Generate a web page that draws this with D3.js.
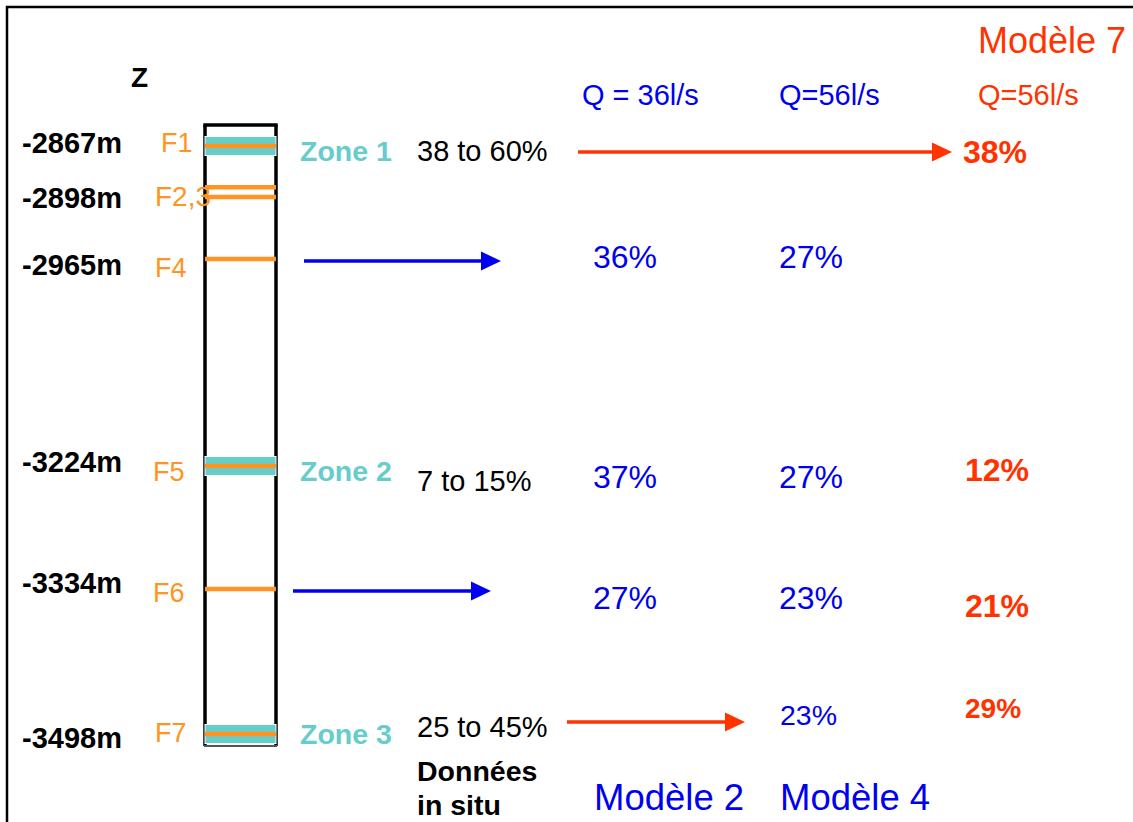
<!DOCTYPE html>
<html><head><meta charset="utf-8">
<script src="https://cdn.jsdelivr.net/npm/d3@7"></script>
<style>body{margin:0;background:#fff}svg{display:block}text{font-family:"Liberation Sans",Arial,sans-serif}</style>
</head><body>
<script>
// ---------------- DATA ----------------
const depthLabels = ["-2867m","-2898m","-2965m","-3224m","-3334m","-3498m"];
const depthValues = [-2867,-2898,-2965,-3224,-3334,-3498];
const fractures = ["F1","F2","F3","F4","F5","F6","F7"];
const fractureDepths = [-2867,-2892,-2898,-2965,-3224,-3334,-3498];
const fractureLabels = ["F1","F2,3","F4","F5","F6","F7"];
const fractureLabelDepths = [-2867,-2898,-2965,-3224,-3334,-3498];
const zones = ["Zone 1","Zone 2","Zone 3"];
const zoneDepths = [-2867,-3224,-3498];
const inSitu = ["38 to 60%","7 to 15%","25 to 45%"];
const models = ["Modèle 2","Modèle 4","Modèle 7"];
const flows = ["Q = 36l/s","Q=56l/s","Q=56l/s"];
const model2Depths = [-2965,-3224,-3334];
const model2Values = [36,37,27];
const model4Depths = [-2965,-3224,-3334,-3498];
const model4Values = [27,27,23,23];
const model7Depths = [-2867,-3224,-3334,-3498];
const model7Values = [38,12,21,29];
const arrowDepths = [-2867,-2965,-3334,-3498];
const arrowKinds = ["m7","m2","m2","m4"];

// ---------------- LAYOUT ----------------
const W = 1133, H = 822;
const BLUE = "#0000f0", RED = "#ff3300", ORANGE = "#ff9422", CYAN = "#66cccc";
const svg = d3.select("body").append("svg").attr("width", W).attr("height", H);

const col = d3.scaleOrdinal()
  .domain(["depth","flabel","well","zone","insitu","m2","m4","m7"])
  .range([22,155,204,300,417,593,779,965]);
const y = d3.scaleLinear().domain(depthValues).range([146,197,259,466,589,734]);
const wellW = 72;

// frame
svg.append("path").attr("d", `M7,${H}V7H${W}`).attr("fill","none").attr("stroke","#000").attr("stroke-width",2.5);

// header texts
svg.append("text").attr("x",131).attr("y",77).attr("dominant-baseline","central")
  .attr("font-weight","bold").attr("font-size",28).text("Z");
const flowX = [582, 779, 978];
svg.selectAll(".flow").data(flows).join("text")
  .attr("x",(d,i)=>flowX[i]).attr("y",95).attr("dominant-baseline","central")
  .attr("font-size",29).attr("fill",(d,i)=>i<2?BLUE:RED).text(d=>d);
svg.append("text").attr("x",978).attr("y",40).attr("dominant-baseline","central")
  .attr("font-size",36).attr("fill",RED).text(models[2]);
svg.selectAll(".mname").data(models.slice(0,2)).join("text")
  .attr("x",(d,i)=>[594,780][i]).attr("y",797).attr("dominant-baseline","central")
  .attr("font-size",36.5).attr("fill",BLUE).text(d=>d);
svg.selectAll(".insituT").data(["Données","in situ"]).join("text")
  .attr("x",col("insitu")).attr("y",(d,i)=>771+i*34).attr("dominant-baseline","central")
  .attr("font-size",28.5).attr("font-weight","bold").text(d=>d);

// well
const wx = col("well");
const wTop = y(-2867)-21, wBot = y(-3498)+12;
const wellG = svg.append("g");
wellG.append("line").attr("x1",wx+1).attr("x2",wx+1).attr("y1",wTop).attr("y2",wBot).attr("stroke","#000").attr("stroke-width",3.5);
wellG.append("line").attr("x1",wx+wellW).attr("x2",wx+wellW).attr("y1",wTop).attr("y2",wBot).attr("stroke","#000").attr("stroke-width",3.5);
wellG.append("line").attr("x1",wx-0.7).attr("x2",wx+wellW+1.7).attr("y1",wTop).attr("y2",wTop).attr("stroke","#000").attr("stroke-width",3.5);
wellG.append("line").attr("x1",wx).attr("x2",wx+wellW+1).attr("y1",wBot).attr("y2",wBot).attr("stroke","#555").attr("stroke-width",2);

// zone bands
svg.selectAll(".band").data(zoneDepths).join("rect")
  .attr("x",wx+1).attr("width",wellW-1).attr("y",d=>y(d)-9.5).attr("height",19)
  .attr("fill",CYAN).attr("stroke","#fff").attr("stroke-width",1);
// fracture lines
svg.selectAll(".frac").data(fractureDepths).join("line")
  .attr("x1",wx+1).attr("x2",wx+wellW).attr("y1",d=>y(d)).attr("y2",d=>y(d))
  .attr("stroke",ORANGE).attr("stroke-width",4.5);

// depth labels
const depthDy = [-3,1,6,-4,-6,4];
svg.selectAll(".dl").data(depthLabels).join("text")
  .attr("x",col("depth")).attr("y",(d,i)=>y(depthValues[i])+depthDy[i]).attr("dominant-baseline","central")
  .attr("font-weight","bold").attr("font-size",29).text(d=>d);
// fracture labels
const fDy = [-3,-1,9,6,4,-1], fDx = [6,0,0,-2,-2,0];
svg.selectAll(".fl").data(fractureLabels).join("text")
  .attr("x",(d,i)=>col("flabel")+fDx[i]).attr("y",(d,i)=>y(fractureLabelDepths[i])+fDy[i]).attr("dominant-baseline","central")
  .attr("font-size",(d,i)=>i===1?28:27).attr("fill",ORANGE).text(d=>d);
// zones
const zDy = [5,5,0], isDy = [5,15,-7];
svg.selectAll(".zl").data(zones).join("text")
  .attr("x",col("zone")).attr("y",(d,i)=>y(zoneDepths[i])+zDy[i]).attr("dominant-baseline","central")
  .attr("font-size",28.5).attr("font-weight","bold").attr("fill",CYAN).text(d=>d);
svg.selectAll(".is").data(inSitu).join("text")
  .attr("x",col("insitu")).attr("y",(d,i)=>y(zoneDepths[i])+isDy[i]).attr("dominant-baseline","central")
  .attr("font-size",29).text(d=>d);

// model values
const m2Dy = [-2,11,9];
svg.selectAll(".m2").data(model2Values).join("text")
  .attr("x",col("m2")).attr("y",(d,i)=>y(model2Depths[i])+m2Dy[i]).attr("dominant-baseline","central")
  .attr("font-size",32).attr("fill",BLUE).text(d=>d+"%");
const m4Dy = [-2,11,9,-19];
svg.selectAll(".m4").data(model4Values).join("text")
  .attr("x",(d,i)=>col("m4")+(i===3?1:0)).attr("y",(d,i)=>y(model4Depths[i])+m4Dy[i]).attr("dominant-baseline","central")
  .attr("font-size",(d,i)=>i===3?28.5:32).attr("fill",BLUE).text(d=>d+"%");
const m7Dy = [6,4,17,-26];
svg.selectAll(".m7").data(model7Values).join("text")
  .attr("x",(d,i)=>col("m7")+(i===0?-2:0)).attr("y",(d,i)=>y(model7Depths[i])+m7Dy[i]).attr("dominant-baseline","central")
  .attr("font-size",(d,i)=>i===3?28:32).attr("font-weight","bold").attr("fill",RED).text(d=>d+"%");

// arrows
const arrowX = [[578,952],[304,501],[293,491],[567,745]];
const arrowDy = [6,2,2,-12];
const aG = svg.selectAll(".arr").data(arrowDepths).join("g")
  .attr("transform",(d,i)=>`translate(0,${y(d)+arrowDy[i]})`);
aG.append("line").attr("x1",(d,i)=>arrowX[i][0]).attr("x2",(d,i)=>arrowX[i][1]-18)
  .attr("stroke",(d,i)=>arrowKinds[i]==="m2"?BLUE:RED).attr("stroke-width",3.5);
aG.append("path").attr("d",(d,i)=>{const t=arrowX[i][1];return `M${t-20},-9.5L${t},0L${t-20},9.5Z`;})
  .attr("fill",(d,i)=>arrowKinds[i]==="m2"?BLUE:RED);
</script>
</body></html>
